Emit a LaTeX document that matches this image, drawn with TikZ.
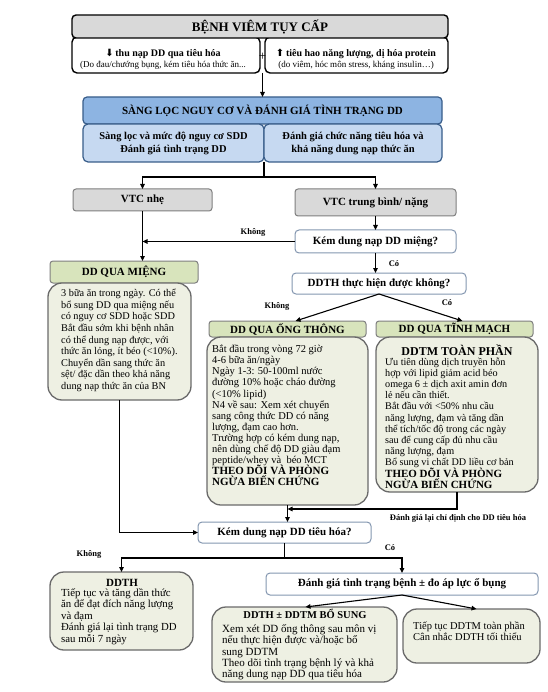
\documentclass[tikz,border=0pt]{standalone}
\usepackage{fontspec}
\setmainfont{Liberation Serif}
\newfontfamily\symf{DejaVu Sans}
\usetikzlibrary{arrows.meta}
\definecolor{tgray}{HTML}{D9D9D9}
\definecolor{bborder}{HTML}{385D8A}
\definecolor{bluemid}{HTML}{8DB4E2}
\definecolor{bluelight}{HTML}{C6D9F1}
\definecolor{vborder}{HTML}{7F7F7F}
\definecolor{qborder}{HTML}{8497B0}
\definecolor{ghead}{HTML}{D8E4BC}
\definecolor{gbodyc}{HTML}{EEF0E3}
\definecolor{gborder}{HTML}{6A6A6A}
\begin{document}
\begin{tikzpicture}[x=1pt,y=-1pt,
  ln/.style={line width=1.1pt},
  arr/.style={line width=1.1pt,-{Triangle[length=5pt,width=4.5pt]}},
  bx/.style={anchor=north west,inner sep=0pt,outer sep=0pt},
  ttl/.style={bx,draw=black,line width=1.4pt,fill=tgray,rounded corners=4pt},
  topbox/.style={bx,draw=black,line width=1.4pt,fill=white,rounded corners=5pt},
  bluehd/.style={bx,draw=bborder,line width=1.2pt,fill=bluemid,rounded corners=4pt},
  bluesub/.style={bx,draw=bborder,line width=1.2pt,fill=bluelight,rounded corners=5pt,align=center},
  vtcbox/.style={bx,draw=vborder,line width=1pt,fill=tgray,rounded corners=3pt},
  qbox/.style={bx,draw=qborder,line width=1pt,fill=white,rounded corners=4pt},
  ghd/.style={bx,draw=vborder,line width=1pt,fill=ghead,rounded corners=3pt},
  gbody/.style={bx,draw=gborder,line width=1.3pt,fill=gbodyc,rounded corners=14pt},
  txt/.style={anchor=north west,inner sep=0pt,align=left},
  hf/.style={font={\bfseries\fontsize{11}{13}\selectfont}},
  lbl/.style={font={\bfseries\fontsize{8.5}{10}\selectfont},inner sep=0pt},
  ttext/.style={anchor=base,inner sep=0pt,font={\bfseries\fontsize{11}{13}\selectfont}}
]
\fill[white] (0,0) rectangle (547,692);
\useasboundingbox (0,0) rectangle (547,692);

% top
\node[topbox,minimum width=188,minimum height=36] (topL) at (72,37) {};
\node[topbox,minimum width=183,minimum height=36] (topR) at (265,37) {};
\node[ttl,minimum width=376,minimum height=23,font={\bfseries\fontsize{13}{15}\selectfont}] (title) at (72,15) {BỆNH VIÊM TỤY CẤP};
\node[align=center,inner sep=0pt] (tL) at (163,59) {{\symf\fontsize{10}{10}\selectfont⬇}\,{\bfseries\fontsize{10}{11}\selectfont thu nạp DD qua tiêu hóa}\\[-1pt]{\fontsize{9}{11}\selectfont(Do đau/chướng bụng, kém tiêu hóa thức ăn...}};
\node[align=center,inner sep=0pt] (tR) at (356,59) {{\symf\fontsize{10}{10}\selectfont⬆}\,{\bfseries\fontsize{10}{11}\selectfont tiêu hao năng lượng, dị hóa protein}\\[-1pt]{\fontsize{9}{11}\selectfont(do viêm, hóc môn stress, kháng insulin…)}};
\node[inner sep=0pt,font={\fontsize{13}{13}\selectfont}] (plus) at (262.5,57) {+};

% screening
\node[bluehd,minimum width=359,minimum height=27,hf] (blue) at (83,97) {SÀNG LỌC NGUY CƠ VÀ ĐÁNH GIÁ TÌNH TRẠNG DD};
\node[bluesub,minimum width=181,minimum height=38,font={\bfseries\fontsize{10.5}{13}\selectfont}] (subL) at (83,124) {Sàng lọc và mức độ nguy cơ SDD\\Đánh giá tình trạng DD};
\node[bluesub,minimum width=178,minimum height=38,font={\bfseries\fontsize{10.5}{13}\selectfont}] (subR) at (264,124) {Đánh giá chức năng tiêu hóa và\\khả năng dung nạp thức ăn};
\draw[arr] (plus.center |- topL.south) -- (plus.center |- blue.north);

% VTC
\node[vtcbox,minimum width=139,minimum height=22,hf] (vtcL) at (73,189) {VTC nhẹ};
\node[vtcbox,minimum width=161,minimum height=27,hf] (vtcR) at (295,189) {VTC trung bình/ nặng};
\coordinate (jA) at (264,177);
\draw[ln] (subL.south east) -- (jA);
\draw[arr] (jA) -| (vtcL.north);
\draw[arr] (jA) -| (vtcR.north);

% questions
\node[qbox,minimum width=161,minimum height=23,hf] (q1) at (295,230) {Kém dung nạp DD miệng?};
\node[qbox,minimum width=174,minimum height=21,hf] (q2) at (292,273) {DDTH thực hiện được không?};
\draw[arr] (vtcR.south) -- (vtcR.south |- q1.north);
\draw[arr] (q1.west) -- (vtcL.south |- q1.west);
\node[lbl] (k1) at (253,232) {Không};
\draw[arr] (q1.south) -- (q1.south |- q2.north);
\node[lbl] (c1) at (394,264) {Có};

% oral
\node[ghd,minimum width=148,minimum height=22,hf] (mh) at (50,261) {DD QUA MIỆNG};
\node[gbody,minimum width=143,minimum height=117] (mb) at (48,283) {};
\node[txt,font={\fontsize{10.3}{11.6}\selectfont\lineskiplimit=-20pt}] (mbt) at (61,285.5) {\rule{0pt}{11pt}3 bữa ăn trong ngày. Có thể\\
bổ sung DD qua miệng nếu\\
có nguy cơ SDD hoặc SDD\\
Bắt đầu sớm khi bệnh nhân\\
có thể dung nạp được, với\\
thức ăn lỏng, ít béo (<10\%).\\
Chuyển dần sang thức ăn\\
sệt/ đặc dần theo khả năng\\
dung nạp thức ăn của BN};
\draw[arr] (vtcL.south) -- (vtcL.south |- mh.north);

% tube
\node[ghd,minimum width=157,minimum height=16,hf] (oth) at (209,321) {DD QUA ỐNG THÔNG};
\node[gbody,minimum width=161,minimum height=168] (otb) at (207,337) {};
\node[txt,font={\fontsize{10.5}{11.08}\selectfont\lineskiplimit=-20pt}] (otbt) at (212,341.5) {\rule{0pt}{11pt}Bắt đầu trong vòng 72 giờ\\
4-6 bữa ăn/ngày\\
Ngày 1-3: 50-100ml nước\\
đường 10\% hoặc cháo đường\\
(<10\% lipid)\\
N4 về sau: Xem xét chuyển\\
sang công thức DD có năng\\
lượng, đạm cao hơn.\\
Trường hợp có kém dung nạp,\\
nên dùng chế độ DD giàu đạm\\
peptide/whey và\ \ béo MCT\\
\textbf{\fontsize{11}{11.08}\selectfont THEO DÕI VÀ PHÒNG}\\
\textbf{\fontsize{11}{11.08}\selectfont NGỪA BIẾN CHỨNG}};

% parenteral
\node[ghd,minimum width=157,minimum height=16,hf] (tmh) at (376,321) {DD QUA TĨNH MẠCH};
\node[gbody,minimum width=162,minimum height=155] (tmb) at (376,337) {};
\node[ttext,font={\bfseries\fontsize{12}{13}\selectfont}] (tmtt) at (457,355.5) {DDTM TOÀN PHẦN};
\node[txt,font={\fontsize{10.2}{11.18}\selectfont\lineskiplimit=-20pt}] (tmbt) at (385,354) {\rule{0pt}{11pt}Ưu tiên dùng dịch truyền hỗn\\
hợp với lipid giảm acid béo\\
omega 6 ± dịch axit amin đơn\\
lẻ nếu cần thiết.\\
Bắt đầu với <50\% nhu cầu\\
năng lượng, đạm và tăng dần\\
thể tích/tốc độ trong các ngày\\
sau để cung cấp đủ nhu cầu\\
năng lượng, đạm\\
Bổ sung vi chất DD liều cơ bản\\
\textbf{\fontsize{11}{11.18}\selectfont THEO DÕI VÀ PHÒNG}\\
\textbf{\fontsize{11}{11.18}\selectfont NGỪA BIẾN CHỨNG}};

\draw[arr] (q2.south) -- ([xshift=8pt]oth.north);
\draw[arr] (q2.south) -- ([xshift=8pt]tmh.north);
\node[lbl] (k2) at (277,306) {Không};
\node[lbl] (c2) at (447,303) {Có};

% digestive tolerance
\node[qbox,minimum width=173,minimum height=21,hf] (q3) at (198,522) {Kém dung nạp DD tiêu hóa?};
\coordinate (jC) at (287.5,509);
\draw[arr] (tmb.south) |- (jC);
\draw[arr] (otb.south) -- (otb.south |- q3.north);
\node[lbl,font={\bfseries\fontsize{8.5}{10}\selectfont}] (rev) at (458,518) {Đánh giá lại chỉ định cho DD tiêu hóa};
\draw[arr] (mb.south) |- (q3.west);

\coordinate (jD) at (284.5,558);
\draw[ln] (q3.south) -- (jD);

% bottom
\node[gbody,minimum width=143,minimum height=78] (ddth) at (50,572) {};
\node[ttext] (ddtht) at (122,586) {DDTH};
\node[txt,font={\fontsize{10.8}{11.5}\selectfont\lineskiplimit=-20pt}] (ddthb) at (61,585) {\rule{0pt}{11pt}Tiếp tục và tăng dần thức\\
ăn để đạt đích năng lượng\\
và đạm\\
Đánh giá lại tình trạng DD\\
sau mỗi 7 ngày};
\node[qbox,minimum width=272,minimum height=22,hf] (q4) at (266,573) {Đánh giá tình trạng bệnh ± đo áp lực ổ bụng};
\draw[arr] (jD) -| (ddth.north);
\draw[arr] (jD) -| (q4.north);
\node[lbl] (k3) at (89,554) {Không};
\node[lbl] (c3) at (390,548) {Có};

\node[gbody,minimum width=185,minimum height=75] (bs) at (212,607) {};
\node[ttext,font={\bfseries\fontsize{10.5}{12}\selectfont}] (bst) at (305,618) {DDTH ± DDTM BỔ SUNG};
\node[txt,font={\fontsize{11}{11.25}\selectfont\lineskiplimit=-20pt}] (bsb) at (222,621.5) {\rule{0pt}{11pt}Xem xét DD ống thông sau môn vị\\
nếu thực hiện được và/hoặc bổ\\
sung DDTM\\
Theo dõi tình trạng bệnh lý và khả\\
năng dung nạp DD qua tiêu hóa};

\node[gbody,minimum width=137,minimum height=54] (rt) at (403,609) {};
\node[txt,font={\fontsize{10.5}{11}\selectfont\lineskiplimit=-20pt}] (rtb) at (413,618.5) {\rule{0pt}{11pt}Tiếp tục DDTM toàn phần\\
Cân nhắc DDTH tối thiểu};

\draw[arr] (q4.south) -- ([xshift=1pt]bs.north);
\draw[arr] (q4.south) -- ([xshift=5pt]rt.north);
\end{tikzpicture}
\end{document}
